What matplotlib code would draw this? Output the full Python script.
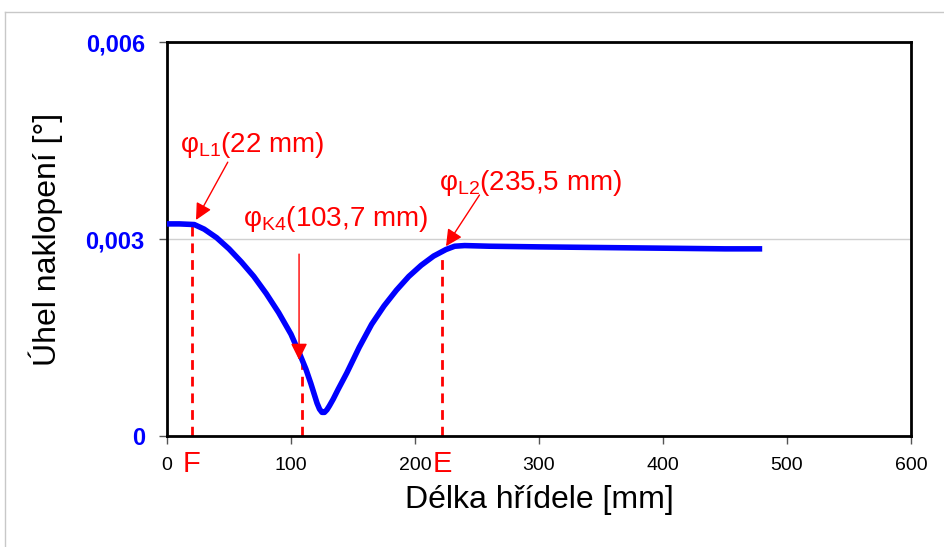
import numpy as np
import matplotlib.pyplot as plt
from matplotlib.ticker import FuncFormatter
from matplotlib.lines import Line2D

# shaft length [mm] and tilt angle [deg]
delka = [0, 10, 22, 30, 40, 50, 60, 70, 80, 90, 100, 107, 112, 116, 119, 121,
         123, 125, 127, 129, 131, 134, 138, 145, 155, 165, 175, 185, 195, 205,
         215, 225, 232, 240, 260, 300, 350, 400, 450, 480]
uhel = [0.00323, 0.00323, 0.00322, 0.00315, 0.00302, 0.00285, 0.00265, 0.00243,
        0.00217, 0.00188, 0.00155, 0.00125, 0.00102, 0.00080, 0.00062, 0.00050,
        0.00041, 0.00036, 0.00036, 0.00040, 0.00046, 0.00056, 0.00071, 0.00096,
        0.00135, 0.00170, 0.00198, 0.00222, 0.00243, 0.00260, 0.00274, 0.00284,
        0.00289, 0.00290, 0.00289, 0.00288, 0.00287, 0.00286, 0.00285, 0.00285]

# dashed marker lines (x, top y) and their bottom labels
dash_x = [20, 109, 222]
dash_top = [0.00323, 0.00111, 0.00283]
dash_lbl = ['F', '', 'E']

# annotations: text, text pos, arrow tail, arrow head
ann_txt = [r'φ$_{\mathregular{L1}}$(22 mm)', r'φ$_{\mathregular{K4}}$(103,7 mm)',
           r'φ$_{\mathregular{L2}}$(235,5 mm)']
ann_txt_pos = [(10.5, 0.00432), (61, 0.00320), (219, 0.00375)]
ann_tail = [(49, 0.00417), (106.5, 0.00277), (252, 0.00367)]
ann_head = [(23.4, 0.00329), (106.5, 0.00116), (225, 0.00289)]

plt.rcParams['font.family'] = ['Liberation Sans', 'DejaVu Sans']
plt.rcParams['mathtext.fontset'] = 'custom'
plt.rcParams['mathtext.rm'] = 'Liberation Sans'

fig = plt.figure(figsize=(9.45, 5.47), dpi=100)
ax = fig.add_axes([167/945, 1-436/547, (911-167)/945, (436-42)/547])

# outer chart frame (Excel style)
fig.add_artist(Line2D([5/945, 5/945], [0, 1-12/547], color='#c8c8c8', lw=1))
fig.add_artist(Line2D([5/945, 1], [1-12/547, 1-12/547], color='#c8c8c8', lw=1))

ax.plot(delka, uhel, color='#0000ff', lw=4, solid_capstyle='butt',
        solid_joinstyle='round', zorder=3)

for x, yt, lb in zip(dash_x, dash_top, dash_lbl):
    ax.plot([x, x], [0, yt], color='red', lw=2, ls=(0, (3.5, 2.5)), zorder=2)
    if lb:
        ax.text(x, -0.00022, lb, color='red', fontsize=21, ha='center', va='top')

for t, tp, tail, head in zip(ann_txt, ann_txt_pos, ann_tail, ann_head):
    ax.text(tp[0], tp[1], t, color='red', fontsize=20, ha='left', va='baseline')
    ax.annotate('', xy=head, xytext=tail,
                arrowprops=dict(arrowstyle='-|>', color='red', lw=1,
                                mutation_scale=25, shrinkA=0, shrinkB=0),
                zorder=4)

ax.set_xlim(0, 600)
ax.set_ylim(0, 0.006)
ax.set_xticks(np.arange(0, 601, 100))
ax.set_yticks([0, 0.003, 0.006])
ax.yaxis.set_major_formatter(FuncFormatter(lambda v, p: ('%g' % round(v, 4)).replace('.', ',')))
ax.yaxis.grid(True, color='#d0d0d0', lw=1)
ax.set_axisbelow(True)

for s in ax.spines.values():
    s.set_linewidth(2)
ax.tick_params(axis='x', labelsize=14, direction='out', length=6, width=1,
               color='#555555', pad=9)
ax.tick_params(axis='y', labelsize=17, labelcolor='#0000ff', direction='out',
               length=6, width=1, color='#555555', pad=10)
for lab in ax.get_yticklabels():
    lab.set_fontweight('bold')

ax.set_xlabel('Délka hřídele [mm]', fontsize=23, labelpad=8)
ax.set_ylabel('Úhel naklopení [°]', fontsize=23, labelpad=16)

fig.savefig('out.png', dpi=100)
